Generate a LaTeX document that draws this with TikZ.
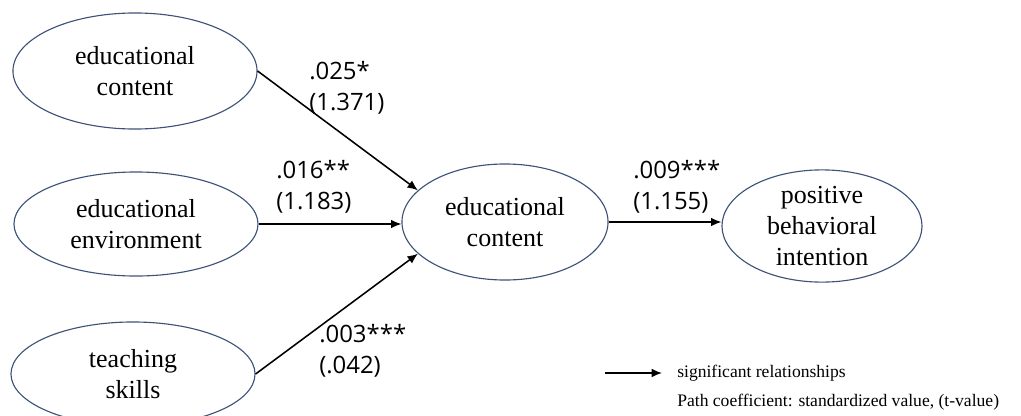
\documentclass[tikz,border=0pt]{standalone}
\usepackage{fontspec}
\setmainfont{Liberation Serif}
\newfontfamily\numfont{Open Sans}
\usetikzlibrary{arrows.meta,shapes.geometric}
\definecolor{rim}{RGB}{62,82,120}

\begin{document}
\begin{tikzpicture}[x=0.025cm,y=-0.025cm,
    latent/.style={draw=rim, line width=0.8pt, ellipse, inner sep=0pt, align=center,
      font=\fontsize{18.5}{22}\selectfont},
    path/.style={-{Latex[length=2.6mm,width=2.2mm]}, line width=1.1pt, black},
    coef/.style={anchor=west, align=left, inner sep=0pt, font=\numfont\fontsize{17}{22}\selectfont},
    legend/.style={anchor=west, inner sep=0pt, font=\fontsize{12.5}{15}\selectfont}]
    \clip (0,0) rectangle (1021,415);
    % latent variables
    \node[latent, minimum width=6.1cm, minimum height=2.9cm] (content) at (135,71) {educational\\content};
    \node[latent, minimum width=6.1cm, minimum height=2.6cm] (environ) at (136,224) {educational\\environment};
    \node[latent, minimum width=6.1cm, minimum height=2.6cm] (skills) at (133,374) {teaching\\skills};
    \node[latent, minimum width=5.15cm, minimum height=2.9cm] (mid) at (505,222) {educational\\content};
    \node[latent, minimum width=5.0cm, minimum height=2.7cm] (intent) at (822,226) {positive\\behavioral\\intention};
    % paths
    \draw[path] (content.east) -- (mid.160);
    \draw[path] (environ.east) -- (mid.west |- environ.east);
    \draw[path] (skills.east) -- (mid.200);
    \draw[path] (mid.east) -- (intent.west |- mid.east);
    % coefficients
    \node[coef] (c1) at (309,88) {.025*\\(1.371)};
    \node[coef] (c2) at (276,187) {.016**\\(1.183)};
    \node[coef] (c3) at (319,351) {.003***\\(.042)};
    \node[coef] (c4) at (633,187) {.009***\\(1.155)};
    % legend
    \coordinate (leg1) at (605,373);
    \coordinate (leg2) at (662,373);
    \draw[path] (leg1) -- (leg2);
    \node[legend] (sig) at (677,373) {significant relationships};
    \node[legend] (pc) at (677,402) {Path coefficient: standardized value, (t-value)};
\end{tikzpicture}
\end{document}
